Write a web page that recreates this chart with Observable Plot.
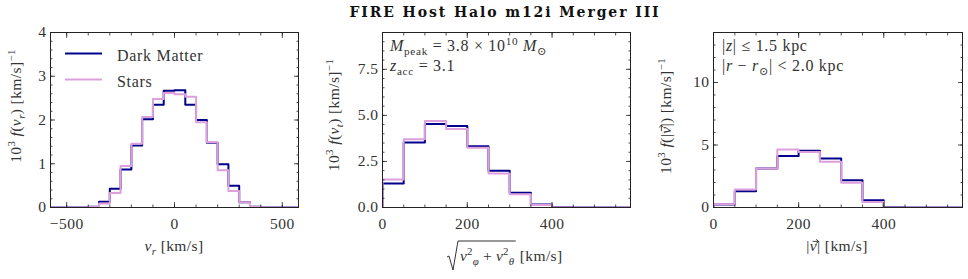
<!DOCTYPE html>
<html><head><meta charset="utf-8">
<script src="https://cdn.jsdelivr.net/npm/d3@7"></script>
<script src="https://cdn.jsdelivr.net/npm/@observablehq/plot@0.6"></script>
<style>
body{margin:0;background:#fff;}
#wrap{position:relative;width:968px;height:279px;overflow:hidden;}
#title{position:absolute;top:4px;left:0;width:1010px;text-align:center;font-family:"DejaVu Serif",serif;font-weight:bold;font-size:14px;letter-spacing:1.9px;color:#111;}
.panel{position:absolute;top:0;}
</style></head><body>
<div id="wrap"><div id="title">FIRE Host Halo m12i Merger III</div></div>
<script>
// ---- data ----
const vrEdges = [-600,-550,-500,-450,-400,-350,-300,-250,-200,-150,-100,-50,0,50,100,150,200,250,300,350,400,450,500,550,600];
const dmVr    = [0,0,0,0,0.02,0.13,0.43,0.87,1.42,2.02,2.35,2.67,2.68,2.35,2.00,1.48,0.99,0.50,0.12,0.02,0,0,0,0];
const starsVr = [0,0,0,0,0.01,0.09,0.33,0.95,1.46,2.07,2.48,2.62,2.59,2.53,1.95,1.49,0.85,0.38,0.12,0.01,0,0,0,0];

const vEdges  = [0,50,100,150,200,250,300,350,400,450,500,550,600];
const dmVt    = [1.30,3.53,4.53,4.42,3.33,1.99,0.80,0.16,0.03,0,0,0];
const starsVt = [1.52,3.70,4.69,4.26,3.24,1.85,0.72,0.13,0.01,0,0,0];
const dmV     = [0.24,1.31,3.13,4.12,4.55,3.93,2.19,0.59,0.03,0,0,0];
const starsV  = [0.27,1.44,3.13,4.65,4.44,3.66,1.98,0.45,0.01,0,0,0];

const seriesNames = ["Dark Matter", "Stars"];
const seriesColors = ["#00008b", "#dda0dd"];

const p1xMajor = [-500,0,500], p1xMinor = [-500,-400,-300,-200,-100,0,100,200,300,400,500];
const p1yMajor = [0,1,2,3,4], p1yMinor = [0,0.2,0.4,0.6,0.8,1,1.2,1.4,1.6,1.8,2,2.2,2.4,2.6,2.8,3,3.2,3.4,3.6,3.8,4];
const vxMajor = [0,200,400], vxMinor = [0,50,100,150,200,250,300,350,400,450,500,550];
const p2yMajor = [0,2.5,5,7.5], p2yMinor = [0,0.5,1,1.5,2,2.5,3,3.5,4,4.5,5,5.5,6,6.5,7,7.5,8,8.5,9];
const p3yMajor = [0,5,10], p3yMinor = [0,1,2,3,4,5,6,7,8,9,10,11,12,13,14];

// ---- helpers ----
const INK = "#222", TXT = "#333";
const SERIF = "'Liberation Serif', 'Times New Roman', 'DejaVu Serif', serif";
function steps(edges, vals){
  const pts = [{x: edges[0], y: 0}];
  vals.forEach((v, i) => pts.push({x: edges[i], y: v}));
  pts.push({x: edges[vals.length], y: vals[vals.length - 1]});
  pts.push({x: edges[vals.length], y: 0});
  return pts;
}
const blank = () => "";
function axes(xMaj, xMin, yMaj, yMin, xFmt, yFmt){
  const o = {label: null, stroke: INK, strokeWidth: 0.8};
  return [
    Plot.axisX({...o, anchor: "bottom", ticks: xMaj, tickSize: 0, tickPadding: 10, tickFormat: xFmt, fill: TXT}),
    Plot.axisY({...o, anchor: "left", ticks: yMaj, tickSize: 0, tickPadding: 4, tickFormat: yFmt, fill: TXT}),
    ...["bottom", "top"].flatMap(a => [
      Plot.axisX({...o, anchor: a, ticks: xMaj, tickSize: -5, tickFormat: blank}),
      Plot.axisX({...o, anchor: a, ticks: xMin, tickSize: -2.5, tickFormat: blank})
    ]),
    ...["left", "right"].flatMap(a => [
      Plot.axisY({...o, anchor: a, ticks: yMaj, tickSize: -5, tickFormat: blank}),
      Plot.axisY({...o, anchor: a, ticks: yMin, tickSize: -2.5, tickFormat: blank})
    ])
  ];
}
function panel({left, width, ml, mr, xdom, ydom, edges, dm, stars, xMaj, xMin, yMaj, yMin, xFmt, yFmt}){
  const chart = Plot.plot({
    width, height: 279, marginLeft: ml, marginRight: mr, marginTop: 32, marginBottom: 72,
    x: {domain: xdom}, y: {domain: ydom},
    style: {fontFamily: SERIF, fontSize: "15.5px", letterSpacing: "0.5px", color: INK, background: "transparent", overflow: "visible"},
    marks: [
      Plot.line(steps(edges, dm), {x: "x", y: "y", curve: "step-after", stroke: seriesColors[0], strokeWidth: 2, clip: true}),
      Plot.line(steps(edges, stars), {x: "x", y: "y", curve: "step-after", stroke: seriesColors[1], strokeWidth: 2, clip: true}),
      ...axes(xMaj, xMin, yMaj, yMin, xFmt, yFmt),
      Plot.frame({stroke: INK, strokeWidth: 1})
    ]
  });
  const div = document.createElement("div");
  div.className = "panel"; div.style.left = left + "px";
  div.appendChild(chart);
  document.getElementById("wrap").appendChild(div);
  return chart;
}
// segs: [text, opts, dxEm]; opts: i=italic, ^=superscript, _=subscript, >=vector arrow
function rich(svg, segs, {x, y, size = 15.5, anchor = "start", rotate = 0, spacing = 0.4}){
  const g = d3.select(svg).append("g").attr("transform", `translate(${x},${y}) rotate(${rotate})`);
  const t = g.append("text")
    .attr("text-anchor", anchor).style("font-family", SERIF).style("letter-spacing", spacing + "px")
    .style("font-size", size + "px").attr("fill", TXT);
  let cur = 0, idx = 0;
  const arrows = [];
  for (const [txt, opt = "", dx = 0] of segs){
    const sh = opt.includes("^") ? -0.38 * size : opt.includes("_") ? 0.25 * size : 0;
    const ts = t.append("tspan").text(txt).attr("dy", sh - cur);
    if (dx) ts.attr("dx", dx * size);
    if (opt.includes("i")) ts.style("font-style", "italic");
    if (sh) ts.style("font-size", size * 0.7 + "px");
    if (opt.includes(">")) arrows.push(idx);
    idx += txt.length;
    cur = sh;
  }
  const node = t.node();
  for (const k of arrows){
    const a = node.getStartPositionOfChar(k), b = node.getEndPositionOfChar(k);
    const yy = a.y - 0.62 * size, x1 = a.x + 0.18 * size, x2 = b.x + 0.1 * size;
    g.append("path").attr("d", `M${x1},${yy}L${x2},${yy}M${x2 - 2.5},${yy - 2}L${x2},${yy}L${x2 - 2.5},${yy + 2}`)
      .attr("fill", "none").attr("stroke", TXT).attr("stroke-width", 0.9);
  }
  return t;
}
const minusFmt = d => d < 0 ? "\u2212" + Math.abs(d) : String(d);

// ---- panel 1 ----
const c1 = panel({left: 0, width: 320, ml: 50, mr: 22, xdom: [-575, 575], ydom: [0, 4], edges: vrEdges,
  dm: dmVr, stars: starsVr, xMaj: p1xMajor, xMin: p1xMinor, yMaj: p1yMajor, yMin: p1yMinor, xFmt: minusFmt, yFmt: d => String(d)});
rich(c1, [["10"], ["3", "^"], [" f", "i"], ["("], ["v", "i"], ["r", "_i"], [") [km/s]"], ["\u22121", "^"]],
  {x: 21, y: 106, rotate: -90, anchor: "middle"});
rich(c1, [["v", "i"], ["r", "_i"], [" [km/s]"]], {x: 174, y: 251, anchor: "middle"});
{
  const g = d3.select(c1);
  seriesNames.forEach((n, i) => {
    const yy = 53.5 + i * 26;
    g.append("line").attr("x1", 65).attr("x2", 102).attr("y1", yy).attr("y2", yy)
      .attr("stroke", seriesColors[i]).attr("stroke-width", 2);
    g.append("text").attr("x", 117).attr("y", yy + 7).attr("text-anchor", "start")
      .style("font-family", SERIF).style("font-size", "16px").style("letter-spacing", "0.7px").attr("fill", TXT).text(n);
  });
}

// ---- panel 2 ----
const c2 = panel({left: 320, width: 330, ml: 62, mr: 20, xdom: [0, 585], ydom: [0, 9.5], edges: vEdges,
  dm: dmVt, stars: starsVt, xMaj: vxMajor, xMin: vxMinor, yMaj: p2yMajor, yMin: p2yMinor, xFmt: d => String(d), yFmt: d3.format(".1f")});
rich(c2, [["10"], ["3", "^"], [" f", "i"], ["("], ["v", "i"], ["t", "_i"], [") [km/s]"], ["\u22121", "^"]],
  {x: 19, y: 115, rotate: -90, anchor: "middle"});
{
  const rx = 140, by = 261;
  const rad = rich(c2, [["v", "i"], ["2", "^"], ["\u03c6", "_i"], [" + "], ["v", "i"], ["2", "^"], ["\u03b8", "_i"]], {x: rx, y: by, spacing: 0.2});
  const bb = rad.node().getBBox();
  const x1 = rx + bb.x + bb.width, top = 241;
  d3.select(c2).append("path")
    .attr("d", `M${rx - 13},${257} L${rx - 11},${256} L${rx - 7},${270} L${rx - 2},${top} L${x1 + 1},${top}`)
    .attr("fill", "none").attr("stroke", TXT).attr("stroke-width", 1);
  rich(c2, [["[km/s]"]], {x: x1 + 5, y: by});
}
rich(c2, [["M", "i"], ["peak", "_"], [" = 3.8 \u00d7 10"], ["10", "^"], [" "], ["M", "i"], ["\u2299", "_"]], {x: 70, y: 51, size: 16, spacing: 0.7});
rich(c2, [["z", "i"], ["acc", "_"], [" = 3.1"]], {x: 70, y: 71, size: 16, spacing: 0.7});

// ---- panel 3 ----
const c3 = panel({left: 650, width: 318, ml: 63, mr: 6, xdom: [0, 585], ydom: [0, 14], edges: vEdges,
  dm: dmV, stars: starsV, xMaj: vxMajor, xMin: vxMinor, yMaj: p3yMajor, yMin: p3yMinor, xFmt: d => String(d), yFmt: d => String(d)});
rich(c3, [["10"], ["3", "^"], [" f", "i"], ["(|"], ["v", "i>"], ["|) [km/s]"], ["\u22121", "^"]],
  {x: 21, y: 116, rotate: -90, anchor: "middle"});
rich(c3, [["|"], ["v", "i>"], ["| [km/s]"]], {x: 187, y: 251, anchor: "middle"});
rich(c3, [["|"], ["z", "i"], ["| \u2264 1.5 kpc"]], {x: 72, y: 51, size: 16, spacing: 0.7});
rich(c3, [["|"], ["r", "i"], [" \u2212 "], ["r", "i"], ["\u2299", "_"], ["| < 2.0 kpc"]], {x: 72, y: 71, size: 16, spacing: 0.7});
</script>
</body></html>
